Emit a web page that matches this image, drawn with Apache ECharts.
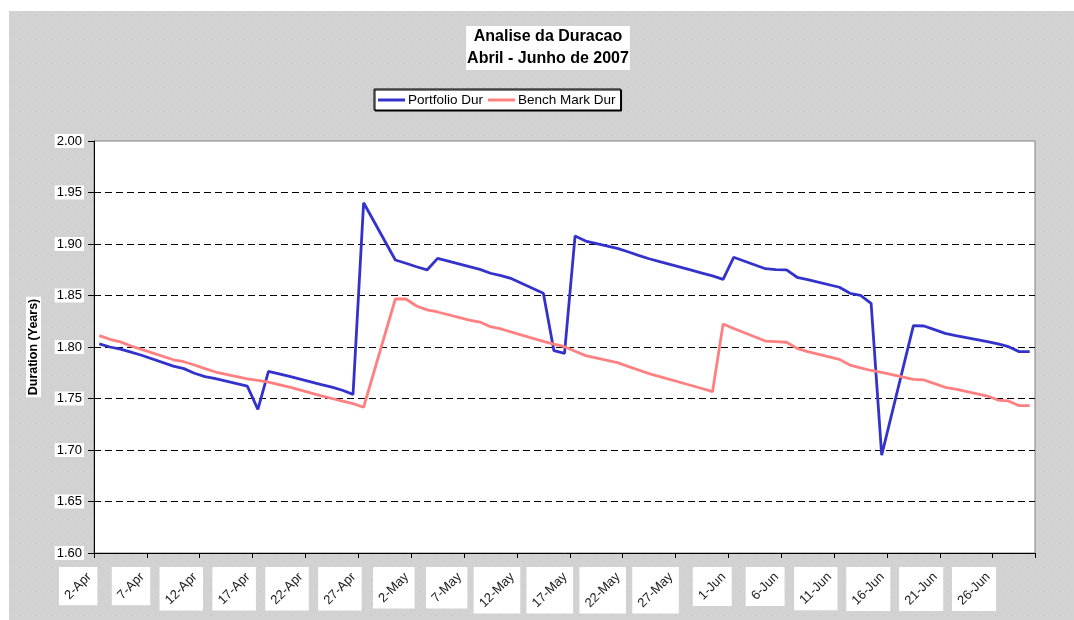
<!DOCTYPE html>
<html>
<head>
<meta charset="utf-8">
<title>Analise da Duracao</title>
<script src="https://cdn.jsdelivr.net/npm/echarts@6/dist/echarts.min.js"></script>
<style>
  html, body { margin: 0; padding: 0; background: #fff; }
  #chart { width: 1074px; height: 620px; }
</style>
</head>
<body>
<div id="chart"></div>
<script>
// dias uteis com dado
const tradeDays = [
  '2-Apr', '3-Apr', '4-Apr', '5-Apr', '6-Apr',
  '9-Apr', '10-Apr', '11-Apr', '12-Apr', '13-Apr',
  '16-Apr', '17-Apr', '18-Apr', '19-Apr', '20-Apr',
  '23-Apr', '24-Apr', '25-Apr', '26-Apr', '27-Apr',
  '30-Apr', '1-May', '2-May', '3-May', '4-May',
  '7-May', '8-May', '9-May', '10-May', '11-May',
  '14-May', '15-May', '16-May', '17-May', '18-May',
  '21-May', '22-May', '23-May', '24-May', '25-May',
  '28-May', '29-May', '30-May', '31-May', '1-Jun',
  '4-Jun', '5-Jun', '6-Jun', '7-Jun', '8-Jun',
  '11-Jun', '12-Jun', '13-Jun', '14-Jun', '15-Jun',
  '18-Jun', '19-Jun', '20-Jun', '21-Jun', '22-Jun',
  '25-Jun', '26-Jun', '27-Jun', '28-Jun', '29-Jun'
];

const portfolioDur = [
  1.803, 1.800, 1.798, 1.795, 1.792,
  1.7815, 1.779, 1.7745, 1.7712, 1.7692,
  1.762, 1.7395, 1.7764, 1.774, 1.7715,
  1.7635, 1.761, 1.758, 1.754, 1.940,
  1.8845, 1.8813, 1.8779, 1.8748, 1.886,
  1.878, 1.8754, 1.8716, 1.8693, 1.8663,
  1.8521, 1.7964, 1.7939, 1.9078, 1.9029,
  1.8958, 1.8925, 1.889, 1.8857, 1.8829,
  1.8746, 1.8718, 1.869, 1.8657, 1.8871,
  1.876, 1.8752, 1.8748, 1.8677, 1.8655,
  1.858, 1.8521, 1.8502, 1.8424, 1.6951,
  1.8207, 1.8204, 1.8168, 1.8133, 1.811,
  1.8052, 1.803, 1.8003, 1.7955, 1.7955
];

const benchMarkDur = [
  1.811, 1.8075, 1.805, 1.801, 1.7977,
  1.7876, 1.7857, 1.7825, 1.779, 1.7757,
  1.769, 1.7675, 1.766, 1.7635, 1.761,
  1.7525, 1.750, 1.7475, 1.745, 1.7415,
  1.8466, 1.8466, 1.8398, 1.836, 1.834,
  1.826, 1.8242, 1.8197, 1.8175, 1.8145,
  1.8055, 1.8027, 1.8003, 1.7958, 1.7916,
  1.7848, 1.7812, 1.7777, 1.7742, 1.7713,
  1.7626, 1.7597, 1.7566, 1.8223, 1.818,
  1.8058, 1.8052, 1.8046, 1.7987, 1.7955,
  1.788, 1.7825, 1.7798, 1.7772, 1.7754,
  1.7686, 1.768, 1.7645, 1.7609, 1.759,
  1.7524, 1.7485, 1.7476, 1.743, 1.743
];

// eixo de datas: todos os dias de 2-Apr a 29-Jun (rotulo a cada 5 dias)
const months = [['Apr', 30], ['May', 31], ['Jun', 30]];
const axisDays = [];
months.forEach(([m, n], k) => {
  for (let d = (k === 0 ? 2 : 1); d <= n; d++) {
    if (m === 'Jun' && d > 29) break;
    axisDays.push(d + '-' + m);
  }
});

const yMin = 1.6, yMax = 2.0, yStep = 0.05;

const FONT = 'Arial, "Liberation Sans", sans-serif';
const LABEL_SIZE = 13;
const LABEL_MARGIN = 12;
const LABEL_PAD = 14;

function onAxis(values) {
  return axisDays.map(d => {
    const i = tradeDays.indexOf(d);
    return i < 0 ? null : values[i];
  });
}

// fundo cinza pontilhado
const pat = document.createElement('canvas');
pat.width = 16; pat.height = 12;
const pctx = pat.getContext('2d');
pctx.fillStyle = '#d2d2d2';
pctx.fillRect(0, 0, 16, 12);
pctx.fillStyle = '#bfbfbf';
pctx.fillRect(3, 3, 1, 1);
pctx.fillRect(11, 9, 1, 1);

const bgRect = {
  type: 'rect', z: -10,
  shape: { x: 9, y: 11, width: 1065, height: 609 },
  style: { fill: { image: pat, repeat: 'repeat' } }
};

const chart = echarts.init(document.getElementById('chart'), null, { renderer: 'canvas' });

const splitColors = [];
for (let v = yMin; v <= yMax + 1e-9; v += yStep) splitColors.push('#000');
splitColors[splitColors.length - 1] = 'rgba(0,0,0,0)';

chart.setOption({
  animation: false,
  backgroundColor: '#fff',
  textStyle: { fontFamily: FONT },
  title: {
    text: 'Analise da Duracao\nAbril - Junho de 2007',
    left: 547,
    top: 26,
    textAlign: 'center',
    padding: [0, 1],
    backgroundColor: '#fff',
    textStyle: { fontSize: 16, fontWeight: 'bold', color: '#000', lineHeight: 22, fontFamily: FONT }
  },
  legend: {
    left: 374,
    top: 89,
    padding: [4, 5, 3, 4],
    itemGap: 5,
    itemWidth: 27,
    itemHeight: 3,
    icon: 'rect',
    backgroundColor: '#fff',
    borderColor: '#000',
    borderWidth: 1,
    shadowColor: '#000',
    shadowOffsetX: 1,
    shadowOffsetY: 1,
    textStyle: { fontSize: 13.5, color: '#000', padding: [0, 0, 0, -2] },
    data: ['Portfolio Dur', 'Bench Mark Dur']
  },
  grid: {
    left: 94, right: 39, top: 141, bottom: 67,
    show: true,
    backgroundColor: '#fff',
    borderColor: '#808080',
    borderWidth: 1
  },
  xAxis: {
    type: 'category',
    data: axisDays,
    boundaryGap: true,
    axisLine: { show: true, lineStyle: { color: '#000', width: 1 } },
    axisTick: { show: true, interval: 4, length: 5, lineStyle: { color: '#000', width: 1 } },
    axisLabel: {
      interval: 4,
      rotate: 45,
      margin: LABEL_MARGIN,
      padding: [0, LABEL_PAD, 0, 0],
      fontSize: LABEL_SIZE,
      color: '#1a1a1a'
    },
    splitLine: { show: false }
  },
  yAxis: {
    type: 'value',
    min: yMin,
    max: yMax,
    interval: yStep,
    name: 'Duration (Years)',
    nameLocation: 'middle',
    nameGap: 53,
    nameTextStyle: { fontSize: 12.5, fontWeight: 'bold', color: '#000', backgroundColor: '#fff', padding: [1, 2] },
    axisLine: { show: true, lineStyle: { color: '#000', width: 1 } },
    axisTick: { show: true, length: 6, lineStyle: { color: '#000' } },
    axisLabel: {
      margin: 10,
      fontSize: 13,
      color: '#000',
      backgroundColor: '#fff',
      padding: [1, 2, 0, 2],
      formatter: v => v.toFixed(2)
    },
    splitLine: { show: true, lineStyle: { color: splitColors, type: [7, 4], width: 1 } }
  },
  series: [
    {
      name: 'Portfolio Dur',
      type: 'line',
      data: onAxis(portfolioDur),
      connectNulls: true,
      symbol: 'none',
      color: '#3333cc',
      lineStyle: { color: '#3333cc', width: 2.8 }
    },
    {
      name: 'Bench Mark Dur',
      type: 'line',
      data: onAxis(benchMarkDur),
      connectNulls: true,
      symbol: 'none',
      color: '#ff8080',
      lineStyle: { color: '#ff8080', width: 2.8 }
    }
  ],
  graphic: [bgRect]
});

// caixas brancas atras dos rotulos do eixo x
function labelBoxes() {
  const axisY = chart.convertToPixel({ yAxisIndex: 0 }, yMin);
  const ctx = document.createElement('canvas').getContext('2d');
  ctx.font = LABEL_SIZE + 'px ' + FONT;
  const boxes = [];
  axisDays.forEach((d, i) => {
    if (i % 5) return;
    const cx = chart.convertToPixel({ xAxisIndex: 0 }, i);
    const w = ctx.measureText(d).width;
    const rx = cx - 0.707 * LABEL_PAD;
    const ry = axisY + LABEL_MARGIN + 0.707 * LABEL_PAD;
    const gx = rx - 0.354 * w, gy = ry + 0.354 * w;
    const half = (w + 14) * 0.354 + 3;
    boxes.push({
      type: 'rect', z: -5,
      shape: { x: gx - half, y: gy - half, width: 2 * half, height: 2 * half },
      style: { fill: '#fff' }
    });
  });
  return boxes;
}

chart.setOption({ graphic: [bgRect].concat(labelBoxes()) });
</script>
</body>
</html>
